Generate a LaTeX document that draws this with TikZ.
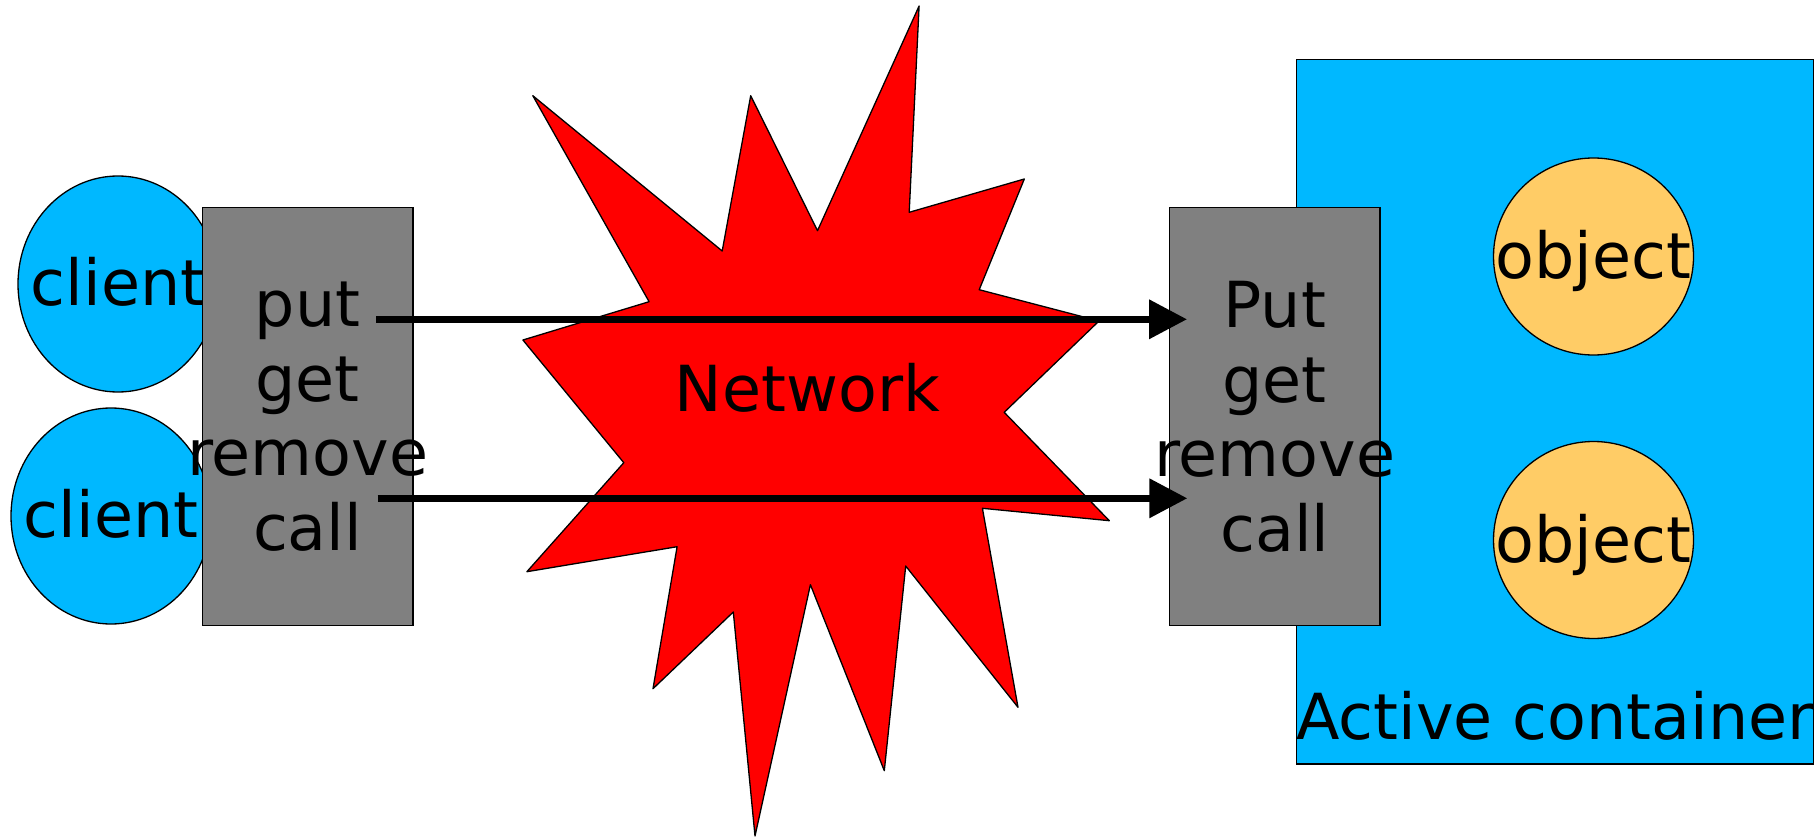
\documentclass[tikz,border=0pt]{standalone}
\usepackage{fontspec}
\setmainfont{DejaVu Sans}
\usetikzlibrary{arrows.meta,shapes.geometric}
\definecolor{skyblue}{RGB}{0,184,255}
\definecolor{stubgray}{RGB}{128,128,128}
\definecolor{objfill}{RGB}{255,204,102}
\begin{document}
\begin{tikzpicture}[x=1pt,y=-1pt,
  outline/.style={draw=black,line width=1.3pt},
  clientshape/.style={outline,ellipse,fill=skyblue,minimum width=200pt,minimum height=216pt,inner sep=0pt},
  objshape/.style={outline,ellipse,fill=objfill,minimum width=200pt,minimum height=197pt,inner sep=0pt},
  stubbox/.style={outline,rectangle,fill=stubgray,minimum width=210.7pt,minimum height=418.4pt,inner sep=0pt},
  txt/.style={font=\fontsize{63.5}{74.5}\selectfont,inner sep=0pt,anchor=base,align=center},
  msg/.style={line width=7pt,-{Triangle[length=38pt,width=38pt]}},
]
\useasboundingbox (0,0) rectangle (1820,837);

% active container with its objects
\node[outline,rectangle,fill=skyblue,minimum width=516.6pt,minimum height=704.7pt,inner sep=0pt]
  (cont) at (1555,411.65) {};
\node[objshape] (o1) at (1593.5,256.5) {};
\node[objshape] (o2) at (1593.5,540) {};
\node[txt] (o1t) at ([yshift=-22pt]o1.center) {object};
\node[txt] (o2t) at ([yshift=-22pt]o2.center) {object};
\node[txt] (contt) at (1555,739.3) {Active container};

% network cloud
\filldraw[outline,fill=red,line join=round]
  (532.8,95.7) -- (722.2,251) -- (750.7,95.7) -- (817.5,230.7) -- (919.1,6)
  -- (909.2,212.3) -- (1024.3,179) -- (979.2,289.7) -- (1099,321)
  -- (1004.2,412.3) -- (1109.3,520.7) -- (982.4,508.3) -- (1018,707.3)
  -- (905.7,566) -- (884.3,770.7) -- (810.4,584.7) -- (755,836)
  -- (733.3,612) -- (653,688.7) -- (677.1,546.7) -- (526.9,571.7)
  -- (623.8,462.7) -- (522.9,340) -- (649.1,301.7) -- cycle;
\node[txt] (net) at (807.5,411.7) {Network};

% clients
\node[clientshape] (c1) at (118,284) {};
\node[clientshape] (c2) at (111,516) {};
\node[txt] (c1t) at ([yshift=-21.5pt]c1.center) {client};
\node[txt] (c2t) at ([yshift=-21.5pt]c2.center) {client};

% stubs on both sides (the base anchor sits on the last line)
\node[stubbox] (lbox) at (307.6,416.5) {};
\node[txt] (lboxt) at (307.6,550) {put\\get\\remove\\call};
\node[stubbox] (rbox) at (1274.7,416.5) {};
\node[txt] (rboxt) at (1274.7,551) {Put\\get\\remove\\call};

% requests across the network
\coordinate (u0) at (376,319.3);
\coordinate (u1) at (1187,319.3);
\coordinate (d0) at (377.7,498.3);
\coordinate (d1) at (1187.3,498.3);
\draw[msg] (u0) -- (u1);
\draw[msg] (d0) -- (d1);
\end{tikzpicture}
\end{document}
